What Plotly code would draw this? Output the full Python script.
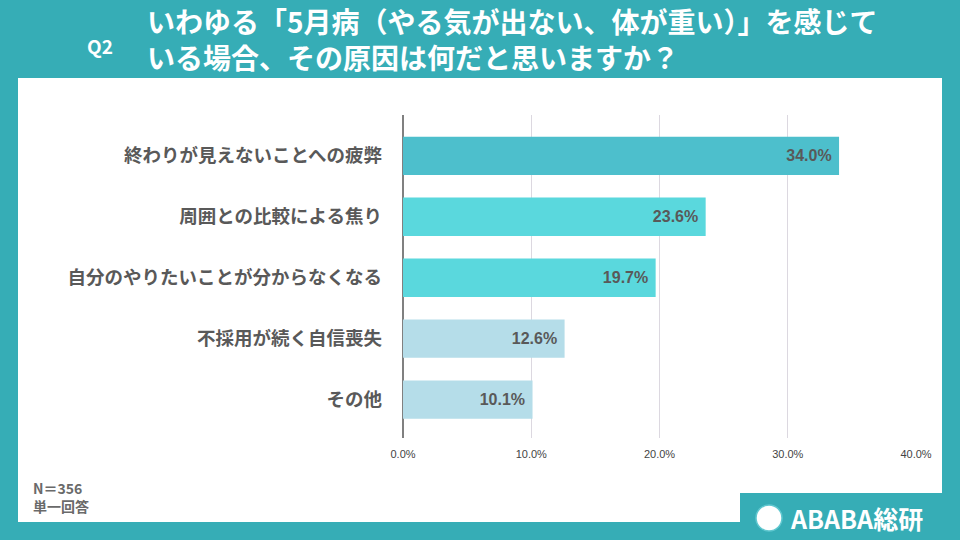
import plotly.graph_objects as go

categories = ["終わりが見えないことへの疲弊", "周囲との比較による焦り", "自分のやりたいことが分からなくなる",
              "不採用が続く自信喪失", "その他"]
values = [34.0, 23.6, 19.7, 12.6, 10.1]
bar_colors = ["#4dbfcc", "#5ad8dd", "#5ad8dd", "#b5dde9", "#b5dde9"]
x_ticks = [0, 10, 20, 30, 40]
x_tick_labels = ["0.0%", "10.0%", "20.0%", "30.0%", "40.0%"]
title_line1 = "いわゆる「5月病（やる気が出ない、体が重い）」を感じて"
title_line2 = "いる場合、その原因は何だと思いますか？"
note_lines = ["N＝356", "単一回答"]

W, H = 960, 540
L, R, T, B = 403, 916, 115, 438
def fx(px):
    return (px - L) / (R - L)
def fy(py):
    return 1 - (py - T) / (B - T)

TEAL = "#36adb6"
CJK = "Noto Sans CJK JP"

fig = go.Figure(go.Bar(
    x=values, y=categories, orientation="h",
    marker=dict(color=bar_colors, line=dict(width=0)),
    text=[f"{v:.1f}%\u00a0" for v in values],
    textposition="inside", insidetextanchor="end",
    insidetextfont=dict(family="Liberation Sans, Arial", size=16, color="#595959", weight="bold"),
    width=0.63,
    cliponaxis=False,
))

fig.update_layout(
    width=W, height=H,
    margin=dict(l=L, r=W - R, t=T, b=H - B),
    paper_bgcolor=TEAL, plot_bgcolor="white",
    showlegend=False,
    bargap=0.37,
    xaxis=dict(range=[0, 40], tickvals=x_ticks, ticktext=x_tick_labels,
               showgrid=True, gridcolor="#dcd8e0", gridwidth=1,
               zeroline=True, zerolinecolor="#808080", zerolinewidth=2,
               ticklabelstandoff=8,
               tickfont=dict(family="Liberation Sans, Arial", size=11, color="#444444"),
               fixedrange=True),
    yaxis=dict(categoryorder="array", categoryarray=categories, autorange=False,
               range=[4.63, -0.67], showgrid=False, zeroline=False,
               ticklabelstandoff=20,
               tickfont=dict(family=CJK, size=18.5, color="#595959", weight="bold")),
    shapes=[
        dict(type="rect", xref="paper", yref="paper", x0=fx(18), x1=fx(942), y0=fy(522), y1=fy(78),
             fillcolor="white", line=dict(width=0), layer="below"),
        dict(type="rect", xref="paper", yref="paper", x0=fx(740), x1=fx(960), y0=fy(540), y1=fy(493),
             fillcolor=TEAL, line=dict(width=0), layer="below"),
        dict(type="circle", xref="paper", yref="paper", x0=fx(756), x1=fx(782), y0=fy(531), y1=fy(505),
             fillcolor="white", line=dict(color="#5fc7cf", width=1.5), layer="above"),
    ],
    annotations=[
        dict(text="<b>Q2</b>", xref="paper", yref="paper", x=fx(100), y=fy(46), xanchor="center", yanchor="middle",
             showarrow=False, font=dict(family=CJK, size=19, color="white")),
        dict(text=f"<b>{title_line1}<br>{title_line2}</b>", xref="paper", yref="paper", x=fx(145), y=fy(39),
             xanchor="left", yanchor="middle", align="left", showarrow=False,
             font=dict(family=CJK, size=28, color="white")),
        dict(text=f"{note_lines[0]}<br>{note_lines[1]}", xref="paper", yref="paper", x=fx(31), y=fy(497),
             xanchor="left", yanchor="middle", align="left", showarrow=False,
             font=dict(family=CJK, size=14, color="#6a6a6a", weight="bold")),
        dict(text="<b>ABABA総研</b>", xref="paper", yref="paper", x=fx(788), y=fy(518), xanchor="left",
             yanchor="middle", showarrow=False, font=dict(family=CJK, size=25, color="white")),
    ],
)

fig.write_html("out.html")
